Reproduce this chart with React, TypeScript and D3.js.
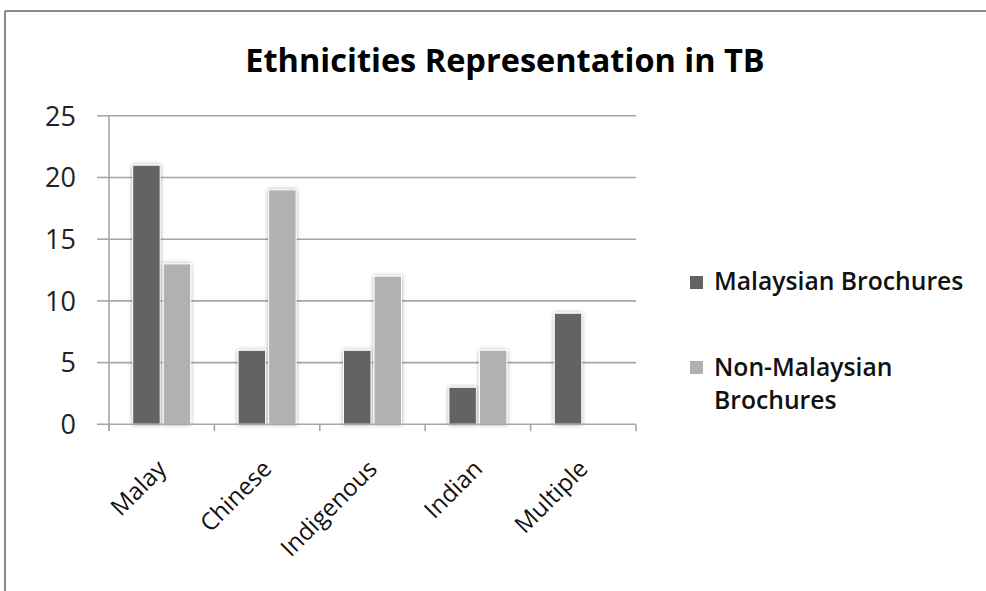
import React from "react";
import * as d3 from "d3";

const categories = ["Malay", "Chinese", "Indigenous", "Indian", "Multiple"];
const seriesNames = ["Malaysian Brochures", "Non-Malaysian Brochures"];
const malaysian = [21, 6, 6, 3, 9];
const nonMalaysian = [13, 19, 12, 6, 0];
const yTicks = [0, 5, 10, 15, 20, 25];
const colors = ["#636363", "#b1b1b1"];

const W = 986;
const H = 591;
const FONT = "'Open Sans', 'DejaVu Sans', sans-serif";

export default function App() {
  const x = d3.scaleBand<string>().domain(categories).range([109, 636]).paddingInner(0).paddingOuter(0);
  const y = d3.scaleLinear().domain([0, 25]).range([424.3, 115.8]);
  const groupW = 58;
  const x1 = d3.scaleBand<number>().domain([0, 1]).range([0, groupW]).paddingInner(0.1);
  const series = [malaysian, nonMalaysian];
  const boundaries = categories.map((c) => x(c)!).concat([x.range()[1]]);

  return (
    <svg width={W} height={H} style={{ position: "absolute", left: 0, top: 0, background: "#fff" }}>
      <defs>
        <filter id="sh" x="-30%" y="-10%" width="160%" height="120%">
          <feGaussianBlur in="SourceAlpha" stdDeviation="2" />
          <feComponentTransfer><feFuncA type="linear" slope="0.35" /></feComponentTransfer>
          <feMerge><feMergeNode /><feMergeNode in="SourceGraphic" /></feMerge>
        </filter>
      </defs>
      <rect x={0} y={0} width={W} height={H} fill="#fff" />
      <line x1={5} y1={11} x2={W} y2={11} stroke="#8a8a8a" strokeWidth={2} />
      <line x1={5} y1={11} x2={5} y2={H} stroke="#8a8a8a" strokeWidth={2} />

      <text x={505} y={72} textAnchor="middle" fontFamily={FONT} fontWeight="bold" fontSize={32.5} fill="#000">
        Ethnicities Representation in TB
      </text>

      {yTicks.map((t) => (
        <g key={t}>
          {t > 0 && <line x1={109} x2={636} y1={y(t)} y2={y(t)} stroke="#a6a6a6" strokeWidth={1.6} />}
          <line x1={97} x2={109} y1={y(t)} y2={y(t)} stroke="#a6a6a6" strokeWidth={1.6} />
          <text x={76} y={y(t)} dy="0.36em" textAnchor="end" fontFamily={FONT} fontSize={27} fill="#222">{t}</text>
        </g>
      ))}
      <line x1={109} x2={109} y1={y(25)} y2={y(0) + 6} stroke="#a6a6a6" strokeWidth={1.6} />

      {categories.map((c, i) => {
        const gx = x(c)! + (x.bandwidth() - groupW) / 2;
        return (
          <g key={c}>
            {series.map((s, j) =>
              s[i] > 0 ? (
                <rect
                  key={j}
                  x={gx + x1(j)!}
                  y={y(s[i])}
                  width={x1.bandwidth()}
                  height={y(0) - y(s[i])}
                  fill={colors[j]}
                  stroke="#ffffff"
                  strokeWidth={1}
                  filter="url(#sh)"
                />
              ) : null
            )}
          </g>
        );
      })}

      <line x1={109} x2={636} y1={y(0)} y2={y(0)} stroke="#a6a6a6" strokeWidth={1.6} />
      {boundaries.map((b, i) => (
        <line key={i} x1={b} x2={b} y1={y(0)} y2={y(0) + 7} stroke="#a6a6a6" strokeWidth={1.6} />
      ))}

      {categories.map((c) => {
        const cx = x(c)! + x.bandwidth() / 2 + 6;
        const cy = y(0) + 46;
        return (
          <text key={c} transform={`translate(${cx},${cy}) rotate(-45)`} textAnchor="end" fontFamily={FONT} fontSize={24} fill="#111">
            {c}
          </text>
        );
      })}

      <rect x={690} y={276} width={13} height={13} fill={colors[0]} />
      <text x={714} y={290} fontFamily={FONT} fontWeight={600} fontSize={24.7} fill="#111">{seriesNames[0]}</text>
      <rect x={690} y={361} width={13} height={13} fill={colors[1]} />
      <text x={714} y={376} fontFamily={FONT} fontWeight={600} fontSize={24.7} fill="#111">Non-Malaysian</text>
      <text x={714} y={409} fontFamily={FONT} fontWeight={600} fontSize={24.7} fill="#111">Brochures</text>
    </svg>
  );
}
